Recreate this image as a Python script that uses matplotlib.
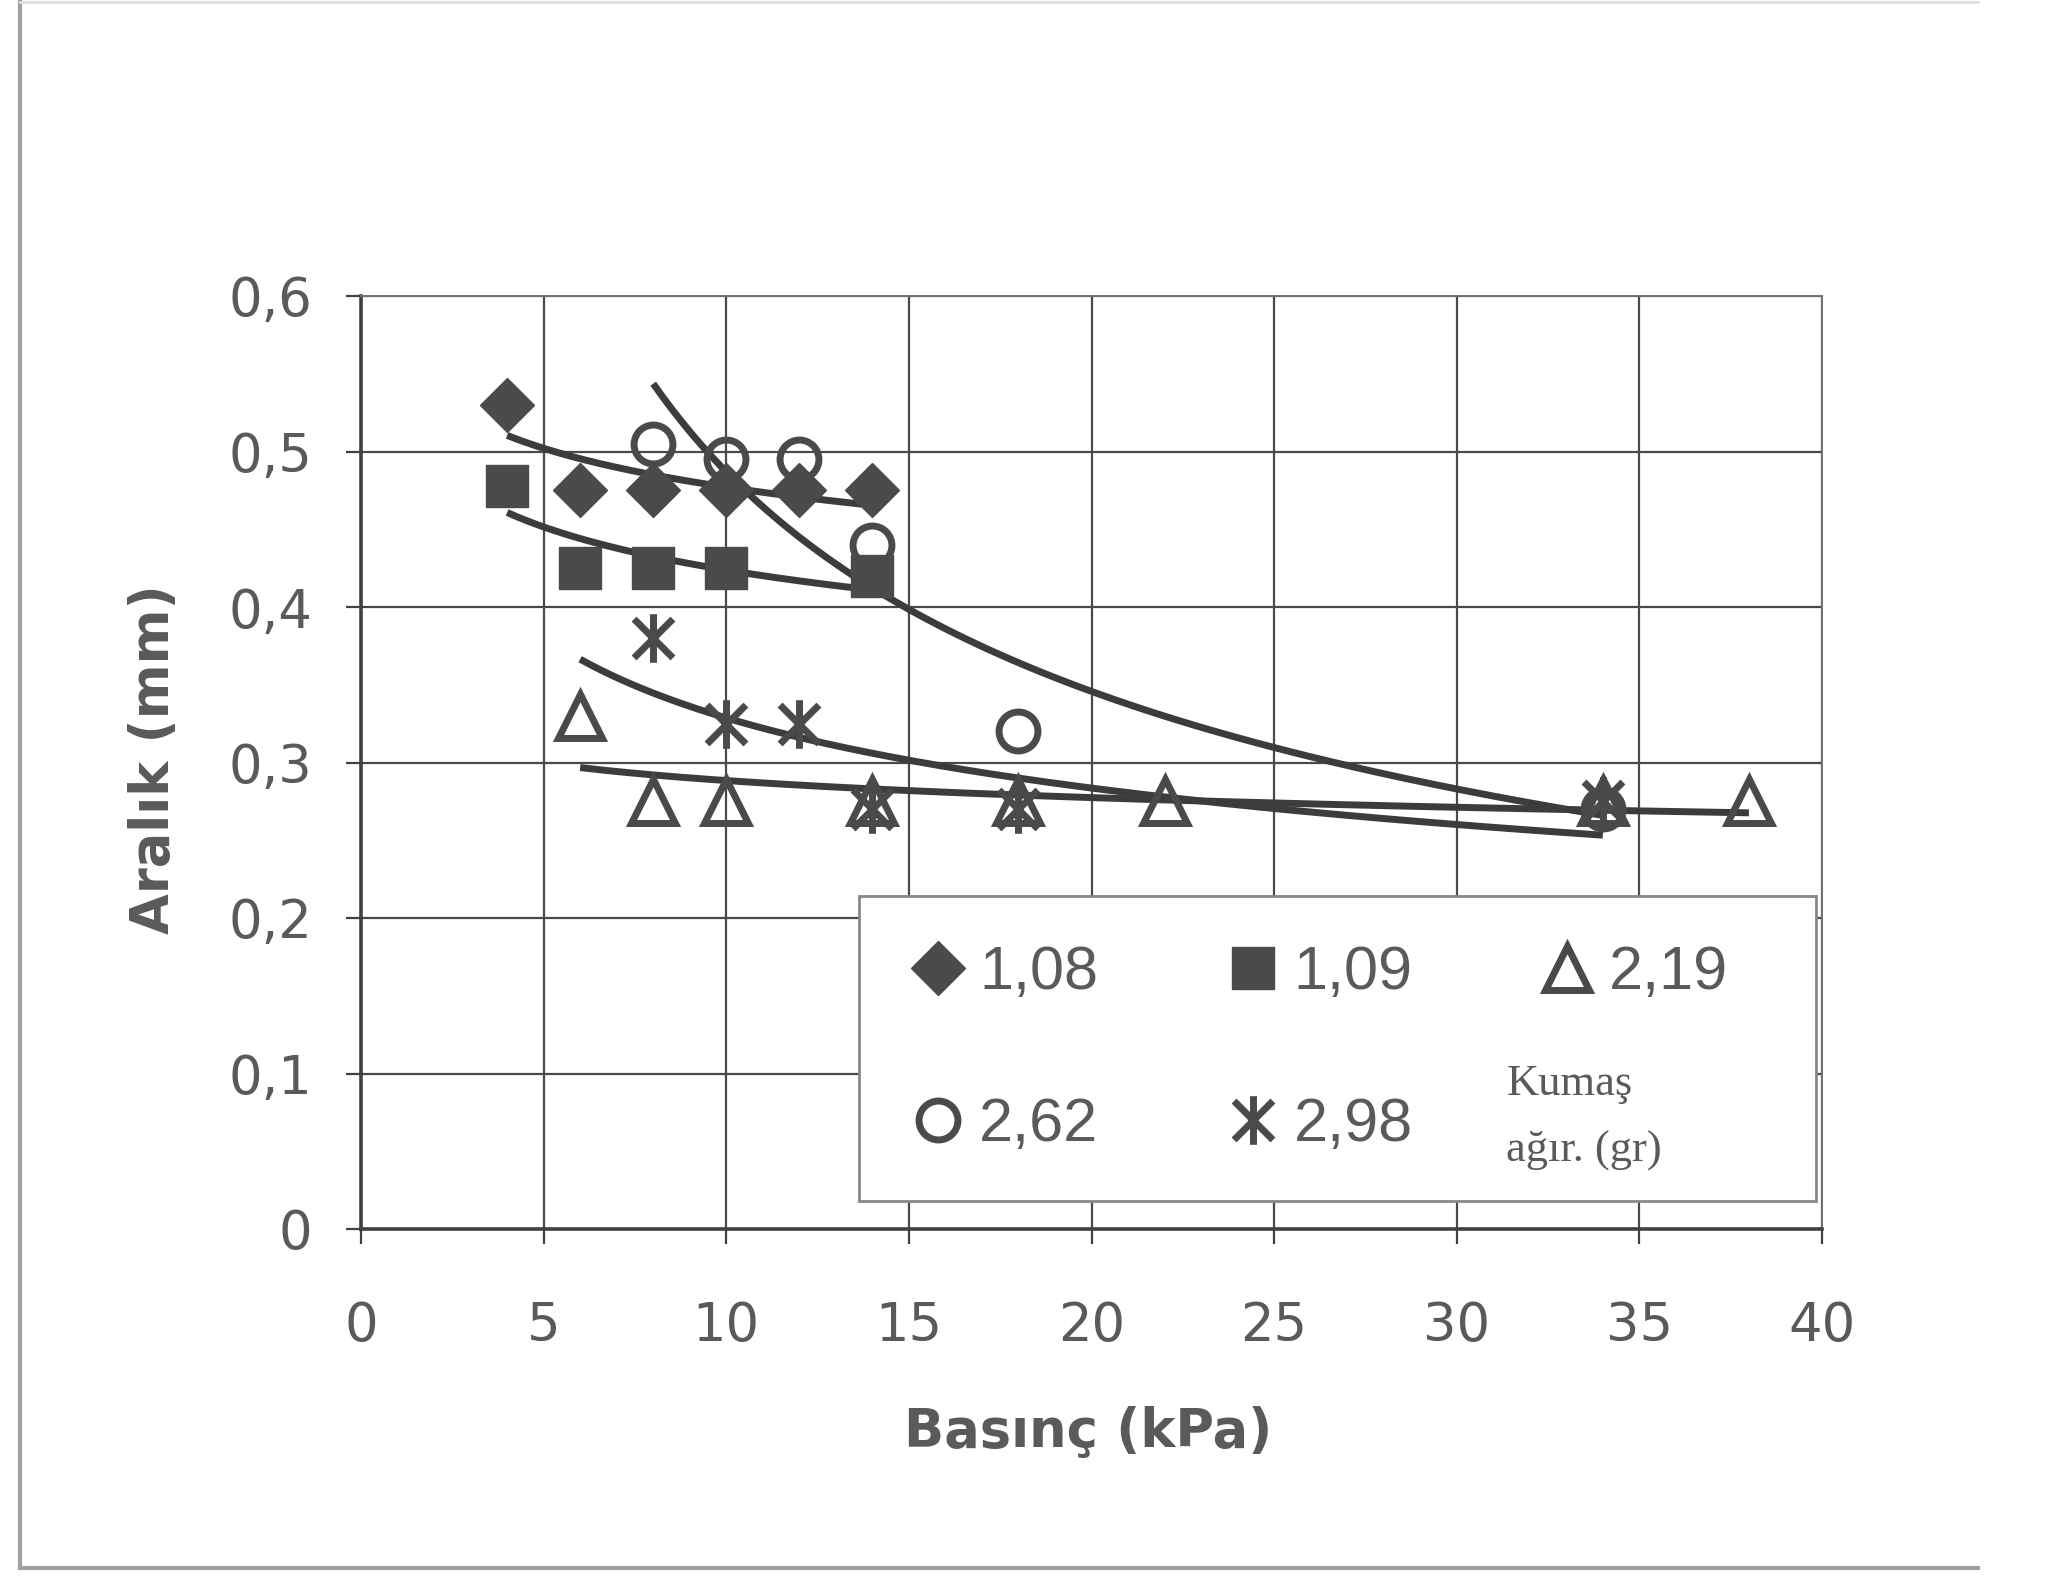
import numpy as np
import matplotlib.pyplot as plt
from matplotlib.path import Path
from matplotlib.lines import Line2D
from matplotlib.patches import Rectangle

# Basınç (kPa) / Aralık (mm) readings per fabric weight
x_108 = [4, 6, 8, 10, 12, 14]
y_108 = [0.53, 0.475, 0.475, 0.475, 0.475, 0.475]

x_109 = [4, 6, 8, 10, 14]
y_109 = [0.478, 0.425, 0.425, 0.425, 0.42]

x_219 = [6, 8, 10, 14, 18, 22, 34, 38]
y_219 = [0.33, 0.275, 0.275, 0.275, 0.275, 0.275, 0.275, 0.275]

x_262 = [8, 10, 12, 14, 18, 34]
y_262 = [0.505, 0.495, 0.495, 0.44, 0.32, 0.27]

x_298 = [8, 10, 12, 14, 18, 34]
y_298 = [0.38, 0.325, 0.325, 0.27, 0.27, 0.275]

# x-range covered by each power trendline
trend_108 = (4, 14)
trend_109 = (4, 14)
trend_219 = (6, 38)
trend_262 = (8, 34)
trend_298 = (6, 34)

labels = ['1,08', '1,09', '2,19', '2,62', '2,98']
xticks = [0, 5, 10, 15, 20, 25, 30, 35, 40]
yticks = [0, 0.1, 0.2, 0.3, 0.4, 0.5, 0.6]
yticklabels = ['0', '0,1', '0,2', '0,3', '0,4', '0,5', '0,6']

mark_col = '#4a4a4a'
line_col = '#3c3c3c'
text_col = '#5a5a5a'

star = Path([(0, -1), (0, 1), (-0.8, -0.8), (0.8, 0.8), (-0.8, 0.8), (0.8, -0.8)],
            [Path.MOVETO, Path.LINETO] * 3)


def power_trend(ax, xs, ys, rng):
    b, a = np.polyfit(np.log(xs), np.log(ys), 1)
    xf = np.linspace(rng[0], rng[1], 200)
    ax.plot(xf, np.exp(a) * xf ** b, color=line_col, lw=5, zorder=3,
            solid_capstyle='butt')


fig = plt.figure(figsize=(20.51, 15.78), dpi=100)
fig.patch.set_facecolor('white')
ax = fig.add_axes([361 / 2051, 1 - 1229 / 1578, 1461 / 2051, 933 / 1578])

h108, = ax.plot(x_108, y_108, ls='none', marker='D', ms=27, mfc=mark_col,
                mec=mark_col, mew=1, label=labels[0], zorder=4)
h109, = ax.plot(x_109, y_109, ls='none', marker='s', ms=30, mfc=mark_col,
                mec=mark_col, mew=1, label=labels[1], zorder=4)
h219, = ax.plot(x_219, y_219, ls='none', marker='^', ms=31, mfc='none',
                mec=mark_col, mew=5, label=labels[2], zorder=4)
h262, = ax.plot(x_262, y_262, ls='none', marker='o', ms=28, mfc='none',
                mec=mark_col, mew=5, label=labels[3], zorder=4)
h298, = ax.plot(x_298, y_298, ls='none', marker=star, ms=35, mfc='none',
                mec=mark_col, mew=5, label=labels[4], zorder=4)

power_trend(ax, x_108, y_108, trend_108)
power_trend(ax, x_109, y_109, trend_109)
power_trend(ax, x_219, y_219, trend_219)
power_trend(ax, x_262, y_262, trend_262)
power_trend(ax, x_298, y_298, trend_298)

ax.set_xlim(0, 40)
ax.set_ylim(0, 0.6)
ax.set_xticks(xticks)
ax.set_xticklabels([str(t) for t in xticks])
ax.set_yticks(yticks)
ax.set_yticklabels(yticklabels)
ax.grid(True, color='#4a4a4a', lw=1.6)
ax.set_axisbelow(True)
for s in ['left', 'bottom']:
    ax.spines[s].set_color('#404040')
    ax.spines[s].set_linewidth(2.6)
for s in ['top', 'right']:
    ax.spines[s].set_color('#707070')
    ax.spines[s].set_linewidth(1.4)
ax.tick_params(direction='out', length=11, width=1.6, color='#404040',
               labelcolor=text_col, labelsize=38)
ax.tick_params(axis='x', pad=40)
ax.tick_params(axis='y', pad=24)

# legend box
ax.add_patch(Rectangle((0.341, 0.030), 0.655, 0.327, transform=ax.transAxes,
                       facecolor='white', edgecolor='#888888', lw=2, zorder=5))
leg = ax.legend(handles=[h108, h262, h109, h298, h219], ncol=3, frameon=False,
                loc='upper left', bbox_to_anchor=(0.377, 0.304),
                borderpad=0, borderaxespad=0, handlelength=0.85,
                handletextpad=0.25, columnspacing=2.1, labelspacing=1.55,
                prop={'family': 'Liberation Sans', 'size': 44})
leg.set_zorder(6)
for t in leg.get_texts():
    t.set_color(text_col)

ax.text(0.784, 0.155, 'Kumaş', transform=ax.transAxes, ha='left', va='center',
        family='Liberation Serif', fontsize=32, color=text_col, zorder=7)
ax.text(0.784, 0.084, 'ağır. (gr)', transform=ax.transAxes, ha='left', va='center',
        family='Liberation Serif', fontsize=32, color=text_col, zorder=7)

fig.text(1088 / 2051, 1 - 1432 / 1578, 'Basınç (kPa)', ha='center', va='center',
         fontsize=38, fontweight='bold', color=text_col)
fig.text(154 / 2051, 1 - 759 / 1578, 'Aralık (mm)', ha='center', va='center',
         rotation=90, fontsize=38, fontweight='bold', color=text_col)

# scanned page frame
fig.add_artist(Line2D([20 / 2051, 20 / 2051], [1 - 1568 / 1578, 1.0],
                      transform=fig.transFigure, color='#a0a0a0', lw=3))
fig.add_artist(Line2D([20 / 2051, 1978 / 2051], [1 - 1568 / 1578, 1 - 1568 / 1578],
                      transform=fig.transFigure, color='#a0a0a0', lw=3))
fig.add_artist(Line2D([20 / 2051, 1978 / 2051], [0.999, 0.999],
                      transform=fig.transFigure, color='#dddddd', lw=2))

fig.savefig('out.png', dpi=100, facecolor='white')
